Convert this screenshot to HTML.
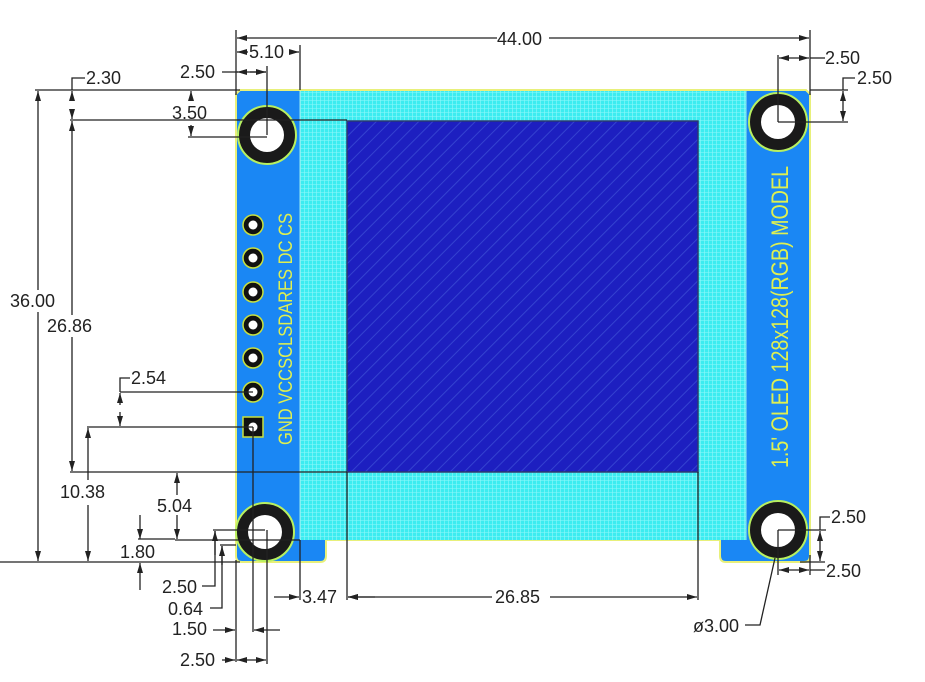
<!DOCTYPE html>
<html><head><meta charset="utf-8"><style>
html,body{margin:0;padding:0;background:#fff;}
svg{display:block;}
text{font-family:"Liberation Sans",sans-serif;font-size:18px;fill:#222;}
</style></head><body>
<svg width="925" height="682" viewBox="0 0 925 682" xmlns="http://www.w3.org/2000/svg">
<defs>
<pattern id="grid" width="4" height="4" patternUnits="userSpaceOnUse">
<rect width="4" height="4" fill="#3cecf0"/>
<path d="M0 0.5H4M0.5 0V4" stroke="#8ff8fa" stroke-width="0.6"/>
</pattern>
<pattern id="diag" width="10" height="10" patternUnits="userSpaceOnUse" patternTransform="rotate(-45)">
<rect width="10" height="10" fill="#1d1fc0"/>
<path d="M0 2H10" stroke="#3442d0" stroke-width="1"/>
</pattern>
<marker id="a" viewBox="0 0 10 6" refX="10" refY="3" markerWidth="10" markerHeight="6" orient="auto-start-reverse" markerUnits="userSpaceOnUse">
<path d="M0 0L10 3L0 6z" fill="#222"/>
</marker>
</defs>

<!-- board -->
<path d="M240 90H806L810 94V556Q810 562 804 562H726Q720 562 720 556V540H326V556Q326 562 320 562H242Q236 562 236 556V94Z" fill="#1a87f4" stroke="#e8f07a" stroke-width="2"/>
<rect x="300" y="91" width="446" height="449" fill="url(#grid)"/>
<line x1="300" y1="91" x2="300" y2="540" stroke="#9ee" stroke-width="1"/>
<line x1="746" y1="91" x2="746" y2="540" stroke="#9ee" stroke-width="1"/>
<rect x="347" y="121" width="351" height="351" fill="url(#diag)" stroke="#2a3a70" stroke-width="1.5"/>

<!-- holes -->
<g stroke="#b8f060" stroke-width="2">
<circle cx="267" cy="135" r="29" fill="#1a1a1a"/>
<circle cx="778" cy="122" r="29" fill="#1a1a1a"/>
<circle cx="265" cy="532" r="29" fill="#1a1a1a"/>
<circle cx="778" cy="530" r="29" fill="#1a1a1a"/>
</g>
<g fill="#fff">
<circle cx="267" cy="135" r="17"/><circle cx="778" cy="122" r="17"/>
<circle cx="265" cy="532" r="17"/><circle cx="778" cy="530" r="17"/>
</g>

<!-- pins -->
<g stroke="#c8e040" stroke-width="1.5">
<circle cx="253" cy="225" r="10" fill="#111"/>
<circle cx="253" cy="258" r="10" fill="#111"/>
<circle cx="253" cy="292" r="10" fill="#111"/>
<circle cx="253" cy="325" r="10" fill="#111"/>
<circle cx="253" cy="358" r="10" fill="#111"/>
<circle cx="253" cy="392" r="10" fill="#111"/>
<rect x="243" y="417" width="20" height="20" fill="#111"/>
</g>
<g fill="#fff">
<circle cx="253" cy="225" r="4.5"/><circle cx="253" cy="258" r="4.5"/><circle cx="253" cy="292" r="4.5"/>
<circle cx="253" cy="325" r="4.5"/><circle cx="253" cy="358" r="4.5"/><circle cx="253" cy="392" r="4.5"/>
<circle cx="253" cy="427" r="4.5"/>
</g>
<text transform="translate(292,445) rotate(-90)" textLength="232" lengthAdjust="spacingAndGlyphs" style="font-size:19px;fill:#dff050">GND VCCSCLSDARES DC CS</text>
<text transform="translate(788,468) rotate(-90)" textLength="302" lengthAdjust="spacingAndGlyphs" style="font-size:24px;fill:#dff050">1.5' OLED 128x128(RGB) MODEL</text>

<!-- dimension lines -->
<g stroke="#222" stroke-width="1.3" fill="none">
<line x1="236" y1="30" x2="236" y2="95"/><line x1="810" y1="30" x2="810" y2="95"/>
<line x1="237" y1="38" x2="809" y2="38" marker-start="url(#a)" marker-end="url(#a)"/>
<line x1="300" y1="45" x2="300" y2="90"/>
<line x1="237" y1="52" x2="248" y2="52" marker-start="url(#a)"/><line x1="290" y1="52" x2="299" y2="52" marker-end="url(#a)"/>
<line x1="267" y1="66" x2="267" y2="135"/>
<line x1="222" y1="72" x2="266" y2="72"/>
<line x1="238" y1="72" x2="237" y2="72" marker-end="url(#a)"/><line x1="250" y1="72" x2="266" y2="72" marker-end="url(#a)"/>
<line x1="35" y1="90" x2="240" y2="90"/>
<line x1="70" y1="120" x2="347" y2="120"/>
<line x1="188" y1="137" x2="267" y2="137"/>
<path d="M85 78H72V90"/>
<line x1="72" y1="98" x2="72" y2="91" marker-end="url(#a)"/><line x1="72" y1="110" x2="72" y2="119" marker-end="url(#a)"/>
<line x1="191" y1="100" x2="191" y2="91" marker-end="url(#a)"/><line x1="191" y1="125" x2="191" y2="136" marker-end="url(#a)"/>
<line x1="38" y1="91" x2="38" y2="290" marker-start="url(#a)"/><line x1="38" y1="312" x2="38" y2="561" marker-end="url(#a)"/>
<line x1="0" y1="562" x2="240" y2="562"/>
<line x1="72" y1="121" x2="72" y2="315" marker-start="url(#a)"/><line x1="72" y1="337" x2="72" y2="471" marker-end="url(#a)"/>
<line x1="70" y1="472" x2="347" y2="472"/>
<line x1="347" y1="472" x2="347" y2="600"/><line x1="698" y1="472" x2="698" y2="600"/>
<line x1="348" y1="597" x2="492" y2="597" marker-start="url(#a)"/><line x1="550" y1="597" x2="697" y2="597" marker-end="url(#a)"/>
<line x1="300" y1="540" x2="300" y2="600"/>
<line x1="274" y1="597" x2="299" y2="597" marker-end="url(#a)"/><line x1="375" y1="597" x2="348" y2="597" marker-end="url(#a)"/>
<path d="M130 378H120V392"/>
<line x1="120" y1="392" x2="253" y2="392"/>
<line x1="87" y1="427" x2="253" y2="427"/>
<line x1="120" y1="405" x2="120" y2="393" marker-end="url(#a)"/><line x1="120" y1="412" x2="120" y2="426" marker-end="url(#a)"/>
<line x1="88" y1="428" x2="88" y2="480" marker-start="url(#a)"/><line x1="88" y1="505" x2="88" y2="561" marker-end="url(#a)"/>
<line x1="177" y1="473" x2="177" y2="495" marker-start="url(#a)"/><line x1="177" y1="515" x2="177" y2="539" marker-end="url(#a)"/>
<line x1="175" y1="540" x2="300" y2="540"/>
<line x1="140" y1="515" x2="140" y2="539" marker-end="url(#a)"/><line x1="140" y1="590" x2="140" y2="563" marker-end="url(#a)"/>
<line x1="138" y1="539" x2="175" y2="539"/>
<line x1="213" y1="530" x2="265" y2="530"/>
<line x1="220" y1="545" x2="236" y2="545"/>
<path d="M202 586H215V531"/><line x1="215" y1="555" x2="215" y2="531" marker-end="url(#a)"/>
<path d="M210 608H222V546"/><line x1="222" y1="565" x2="222" y2="546" marker-end="url(#a)"/>
<line x1="236" y1="560" x2="236" y2="662"/>
<line x1="253" y1="427" x2="253" y2="632"/>
<line x1="267" y1="530" x2="267" y2="664"/>
<line x1="213" y1="630" x2="235" y2="630" marker-end="url(#a)"/><line x1="280" y1="630" x2="254" y2="630" marker-end="url(#a)"/>
<line x1="222" y1="660" x2="235" y2="660" marker-end="url(#a)"/>
<line x1="237" y1="660" x2="266" y2="660" marker-start="url(#a)" marker-end="url(#a)"/>
<line x1="778" y1="55" x2="778" y2="122"/>
<line x1="779" y1="58" x2="809" y2="58" marker-start="url(#a)" marker-end="url(#a)"/>
<line x1="810" y1="58" x2="825" y2="58"/>
<line x1="810" y1="90" x2="848" y2="90"/>
<line x1="778" y1="122" x2="848" y2="122"/>
<path d="M855 78H843V90"/>
<line x1="843" y1="91" x2="843" y2="121" marker-start="url(#a)" marker-end="url(#a)"/>
<line x1="778" y1="530" x2="826" y2="530"/>
<path d="M830 517H820V530"/>
<line x1="820" y1="531" x2="820" y2="561" marker-start="url(#a)" marker-end="url(#a)"/>
<line x1="800" y1="562" x2="825" y2="562"/>
<line x1="778" y1="530" x2="778" y2="575"/>
<line x1="810" y1="555" x2="810" y2="575"/>
<line x1="779" y1="570" x2="809" y2="570" marker-start="url(#a)" marker-end="url(#a)"/>
<line x1="810" y1="570" x2="825" y2="570"/>
<path d="M775 558L760 625H745"/>
</g>

<g>
<rect x="497" y="30" width="52" height="16" fill="#fff"/>
<text x="497" y="45">44.00</text>
<text x="249" y="58">5.10</text>
<text x="180" y="78">2.50</text>
<text x="86" y="84">2.30</text>
<text x="172" y="119">3.50</text>
<rect x="10" y="291" width="54" height="20" fill="#fff"/>
<text x="10" y="307">36.00</text>
<rect x="48" y="316" width="54" height="20" fill="#fff"/>
<text x="47" y="332">26.86</text>
<text x="131" y="384">2.54</text>
<rect x="60" y="483" width="54" height="20" fill="#fff"/>
<text x="60" y="498">10.38</text>
<text x="157" y="512">5.04</text>
<text x="120" y="558">1.80</text>
<text x="162" y="593">2.50</text>
<text x="168" y="615">0.64</text>
<text x="172" y="635">1.50</text>
<text x="180" y="666">2.50</text>
<text x="302" y="603">3.47</text>
<text x="495" y="603">26.85</text>
<text x="825" y="64">2.50</text>
<text x="857" y="84">2.50</text>
<text x="831" y="523">2.50</text>
<text x="826" y="577">2.50</text>
<text x="693" y="632">ø3.00</text>
</g>
</svg>
</body></html>
